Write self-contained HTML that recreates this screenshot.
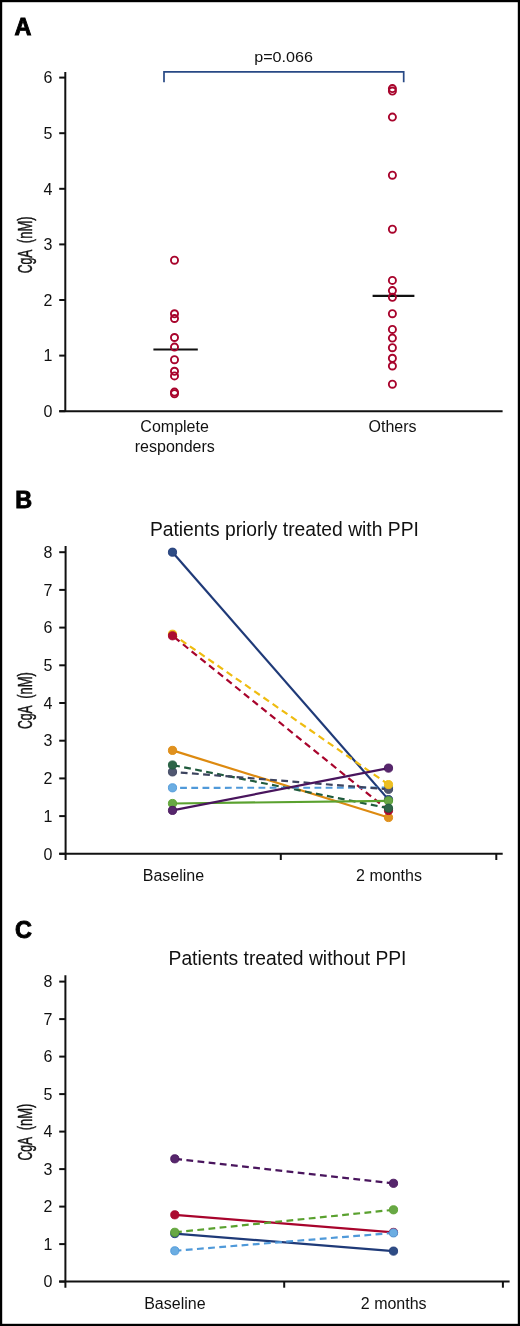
<!DOCTYPE html>
<html><head><meta charset="utf-8"><style>
html,body{margin:0;padding:0;background:#fff;}
svg{display:block;will-change:transform;}
</style></head><body>
<svg width="520" height="1326" viewBox="0 0 520 1326">
<rect x="1.1" y="1.1" width="517.8" height="1323.8" fill="#fff" stroke="#000" stroke-width="2.2"/>
<g font-family='"Liberation Sans", sans-serif' fill="#111">
<text x="14.6" y="34.9" font-size="23.4" font-weight="bold" fill="#000" stroke="#000" stroke-width="0.9">A</text>
<line x1="65.3" y1="71.9" x2="65.3" y2="411.2" stroke="#111" stroke-width="2"/>
<line x1="59.2" y1="411.20" x2="65.3" y2="411.20" stroke="#111" stroke-width="2"/>
<text x="52.4" y="416.90" font-size="16" text-anchor="end">0</text>
<line x1="59.2" y1="355.60" x2="65.3" y2="355.60" stroke="#111" stroke-width="2"/>
<text x="52.4" y="361.30" font-size="16" text-anchor="end">1</text>
<line x1="59.2" y1="300.00" x2="65.3" y2="300.00" stroke="#111" stroke-width="2"/>
<text x="52.4" y="305.70" font-size="16" text-anchor="end">2</text>
<line x1="59.2" y1="244.40" x2="65.3" y2="244.40" stroke="#111" stroke-width="2"/>
<text x="52.4" y="250.10" font-size="16" text-anchor="end">3</text>
<line x1="59.2" y1="188.80" x2="65.3" y2="188.80" stroke="#111" stroke-width="2"/>
<text x="52.4" y="194.50" font-size="16" text-anchor="end">4</text>
<line x1="59.2" y1="133.20" x2="65.3" y2="133.20" stroke="#111" stroke-width="2"/>
<text x="52.4" y="138.90" font-size="16" text-anchor="end">5</text>
<line x1="59.2" y1="77.60" x2="65.3" y2="77.60" stroke="#111" stroke-width="2"/>
<text x="52.4" y="83.30" font-size="16" text-anchor="end">6</text>
<text transform="translate(31.9,273.35) rotate(-90) scale(0.6,1)" x="0" y="0" font-size="20.3" stroke="#111" stroke-width="0.45">CgA</text>
<text transform="translate(31.9,216.45) rotate(-90) scale(0.64,1)" x="0" y="0" font-size="20.3" text-anchor="end" stroke="#111" stroke-width="0.45">(nM)</text>
<line x1="59.2" y1="411.2" x2="502.6" y2="411.2" stroke="#111" stroke-width="2"/>
<text x="174.6" y="432.3" font-size="16" text-anchor="middle">Complete</text>
<text x="174.8" y="451.7" font-size="16" text-anchor="middle">responders</text>
<text x="392.5" y="431.7" font-size="16" text-anchor="middle">Others</text>
<text transform="translate(283.6,61.7) scale(1.09,1)" x="0" y="0" font-size="14.8" text-anchor="middle">p=0.066</text>
<path d="M164,82.3 V71.9 H403.7 V82.3" fill="none" stroke="#284985" stroke-width="1.7"/>
<line x1="153.4" y1="349.5" x2="197.8" y2="349.5" stroke="#111" stroke-width="2.2"/>
<line x1="372.6" y1="295.8" x2="414.4" y2="295.8" stroke="#111" stroke-width="2.2"/>
<circle cx="174.5" cy="260.2" r="3.55" fill="none" stroke="#a8042c" stroke-width="1.9"/>
<circle cx="174.5" cy="313.8" r="3.55" fill="none" stroke="#a8042c" stroke-width="1.9"/>
<circle cx="174.5" cy="318.5" r="3.55" fill="none" stroke="#a8042c" stroke-width="1.9"/>
<circle cx="174.5" cy="337.5" r="3.55" fill="none" stroke="#a8042c" stroke-width="1.9"/>
<circle cx="174.5" cy="347.1" r="3.55" fill="none" stroke="#a8042c" stroke-width="1.9"/>
<circle cx="174.5" cy="359.7" r="3.55" fill="none" stroke="#a8042c" stroke-width="1.9"/>
<circle cx="174.5" cy="371.3" r="3.55" fill="none" stroke="#a8042c" stroke-width="1.9"/>
<circle cx="174.5" cy="375.9" r="3.55" fill="none" stroke="#a8042c" stroke-width="1.9"/>
<circle cx="174.5" cy="392.1" r="3.55" fill="none" stroke="#a8042c" stroke-width="1.9"/>
<circle cx="174.5" cy="393.7" r="3.55" fill="none" stroke="#a8042c" stroke-width="1.9"/>
<circle cx="392.4" cy="88.6" r="3.55" fill="none" stroke="#a8042c" stroke-width="1.9"/>
<circle cx="392.4" cy="91.1" r="3.55" fill="none" stroke="#a8042c" stroke-width="1.9"/>
<circle cx="392.4" cy="117.1" r="3.55" fill="none" stroke="#a8042c" stroke-width="1.9"/>
<circle cx="392.4" cy="175.2" r="3.55" fill="none" stroke="#a8042c" stroke-width="1.9"/>
<circle cx="392.4" cy="229.2" r="3.55" fill="none" stroke="#a8042c" stroke-width="1.9"/>
<circle cx="392.4" cy="280.4" r="3.55" fill="none" stroke="#a8042c" stroke-width="1.9"/>
<circle cx="392.4" cy="290.6" r="3.55" fill="none" stroke="#a8042c" stroke-width="1.9"/>
<circle cx="392.4" cy="297.3" r="3.55" fill="none" stroke="#a8042c" stroke-width="1.9"/>
<circle cx="392.4" cy="313.7" r="3.55" fill="none" stroke="#a8042c" stroke-width="1.9"/>
<circle cx="392.4" cy="329.4" r="3.55" fill="none" stroke="#a8042c" stroke-width="1.9"/>
<circle cx="392.4" cy="338.1" r="3.55" fill="none" stroke="#a8042c" stroke-width="1.9"/>
<circle cx="392.4" cy="347.7" r="3.55" fill="none" stroke="#a8042c" stroke-width="1.9"/>
<circle cx="392.4" cy="358.3" r="3.55" fill="none" stroke="#a8042c" stroke-width="1.9"/>
<circle cx="392.4" cy="366" r="3.55" fill="none" stroke="#a8042c" stroke-width="1.9"/>
<circle cx="392.4" cy="384.2" r="3.55" fill="none" stroke="#a8042c" stroke-width="1.9"/>
<text x="15.3" y="508.1" font-size="23.4" font-weight="bold" fill="#000" stroke="#000" stroke-width="0.9">B</text>
<text x="284.4" y="535.9" font-size="19.3" text-anchor="middle">Patients priorly treated with PPI</text>
<line x1="65.6" y1="546.1" x2="65.6" y2="860.0" stroke="#111" stroke-width="2"/>
<line x1="59.2" y1="853.80" x2="65.6" y2="853.80" stroke="#111" stroke-width="2"/>
<text x="52.4" y="859.50" font-size="16" text-anchor="end">0</text>
<line x1="59.2" y1="816.10" x2="65.6" y2="816.10" stroke="#111" stroke-width="2"/>
<text x="52.4" y="821.80" font-size="16" text-anchor="end">1</text>
<line x1="59.2" y1="778.40" x2="65.6" y2="778.40" stroke="#111" stroke-width="2"/>
<text x="52.4" y="784.10" font-size="16" text-anchor="end">2</text>
<line x1="59.2" y1="740.70" x2="65.6" y2="740.70" stroke="#111" stroke-width="2"/>
<text x="52.4" y="746.40" font-size="16" text-anchor="end">3</text>
<line x1="59.2" y1="703.00" x2="65.6" y2="703.00" stroke="#111" stroke-width="2"/>
<text x="52.4" y="708.70" font-size="16" text-anchor="end">4</text>
<line x1="59.2" y1="665.30" x2="65.6" y2="665.30" stroke="#111" stroke-width="2"/>
<text x="52.4" y="671.00" font-size="16" text-anchor="end">5</text>
<line x1="59.2" y1="627.60" x2="65.6" y2="627.60" stroke="#111" stroke-width="2"/>
<text x="52.4" y="633.30" font-size="16" text-anchor="end">6</text>
<line x1="59.2" y1="589.90" x2="65.6" y2="589.90" stroke="#111" stroke-width="2"/>
<text x="52.4" y="595.60" font-size="16" text-anchor="end">7</text>
<line x1="59.2" y1="552.20" x2="65.6" y2="552.20" stroke="#111" stroke-width="2"/>
<text x="52.4" y="557.90" font-size="16" text-anchor="end">8</text>
<text transform="translate(31.9,728.95) rotate(-90) scale(0.6,1)" x="0" y="0" font-size="20.3" stroke="#111" stroke-width="0.45">CgA</text>
<text transform="translate(31.9,672.05) rotate(-90) scale(0.64,1)" x="0" y="0" font-size="20.3" text-anchor="end" stroke="#111" stroke-width="0.45">(nM)</text>
<line x1="59.2" y1="853.8" x2="502.7" y2="853.8" stroke="#111" stroke-width="2"/>
<line x1="280.8" y1="853.8" x2="280.8" y2="860" stroke="#111" stroke-width="2"/>
<line x1="496.3" y1="853.8" x2="496.3" y2="860" stroke="#111" stroke-width="2"/>
<text x="173.4" y="881" font-size="16" text-anchor="middle">Baseline</text>
<text x="389" y="881" font-size="16" text-anchor="middle">2 months</text>
<line x1="172.5" y1="552.2" x2="388.5" y2="799.6" stroke="#1f3a78" stroke-width="2.2"/>
<line x1="388.5" y1="784.6" x2="172.5" y2="634.2" stroke="#efbc10" stroke-width="2.2" stroke-dasharray="6.8 4.4"/>
<line x1="388.5" y1="810.5" x2="172.5" y2="635.8" stroke="#a8042c" stroke-width="2.2" stroke-dasharray="6.8 4.4"/>
<line x1="172.5" y1="750.4" x2="388.5" y2="817.5" stroke="#dd8a10" stroke-width="2.2"/>
<line x1="388.5" y1="808.2" x2="172.5" y2="765.0" stroke="#1f5a3c" stroke-width="2.2" stroke-dasharray="6.8 4.4"/>
<line x1="388.5" y1="787.7" x2="172.5" y2="787.8" stroke="#4f99d9" stroke-width="2.2" stroke-dasharray="6.8 4.4"/>
<line x1="388.5" y1="789.3" x2="172.5" y2="771.9" stroke="#3d445f" stroke-width="2.2" stroke-dasharray="6.8 4.4"/>
<line x1="172.5" y1="803.5" x2="388.5" y2="800.8" stroke="#5aa12f" stroke-width="2.2"/>
<line x1="172.5" y1="810.4" x2="388.5" y2="768.1" stroke="#49155d" stroke-width="2.2"/>
<circle cx="172.5" cy="552.2" r="4.1" fill="#2e4c85" stroke="#1f3a78" stroke-width="0.9"/>
<circle cx="172.5" cy="634.2" r="4.1" fill="#ecbf24" stroke="#efbc10" stroke-width="0.9"/>
<circle cx="172.5" cy="635.8" r="4.1" fill="#ab0c31" stroke="#a8042c" stroke-width="0.9"/>
<circle cx="172.5" cy="750.4" r="4.1" fill="#e0911f" stroke="#dd8a10" stroke-width="0.9"/>
<circle cx="172.5" cy="771.9" r="4.1" fill="#505771" stroke="#3d445f" stroke-width="0.9"/>
<circle cx="172.5" cy="765.0" r="4.1" fill="#2e6548" stroke="#1f5a3c" stroke-width="0.9"/>
<circle cx="172.5" cy="787.8" r="4.1" fill="#6badE2" stroke="#4f99d9" stroke-width="0.9"/>
<circle cx="172.5" cy="803.5" r="4.1" fill="#68a845" stroke="#5aa12f" stroke-width="0.9"/>
<circle cx="172.5" cy="810.4" r="4.1" fill="#56266c" stroke="#49155d" stroke-width="0.9"/>
<circle cx="388.5" cy="768.1" r="4.1" fill="#56266c" stroke="#49155d" stroke-width="0.9"/>
<circle cx="388.5" cy="787.7" r="4.1" fill="#6badE2" stroke="#4f99d9" stroke-width="0.9"/>
<circle cx="388.5" cy="789.3" r="4.1" fill="#505771" stroke="#3d445f" stroke-width="0.9"/>
<circle cx="388.5" cy="784.6" r="4.1" fill="#ecbf24" stroke="#efbc10" stroke-width="0.9"/>
<circle cx="388.5" cy="799.6" r="4.1" fill="#2e4c85" stroke="#1f3a78" stroke-width="0.9"/>
<circle cx="388.5" cy="800.8" r="4.1" fill="#68a845" stroke="#5aa12f" stroke-width="0.9"/>
<circle cx="388.5" cy="817.5" r="4.1" fill="#e0911f" stroke="#dd8a10" stroke-width="0.9"/>
<circle cx="388.5" cy="810.5" r="4.1" fill="#ab0c31" stroke="#a8042c" stroke-width="0.9"/>
<circle cx="388.5" cy="808.2" r="4.1" fill="#2e6548" stroke="#1f5a3c" stroke-width="0.9"/>
<text x="14.9" y="937.6" font-size="23.4" font-weight="bold" fill="#000" stroke="#000" stroke-width="0.9">C</text>
<text x="287.5" y="965" font-size="19.3" text-anchor="middle">Patients treated without PPI</text>
<line x1="65.4" y1="975.2" x2="65.4" y2="1287.6999999999998" stroke="#111" stroke-width="2"/>
<line x1="59.2" y1="1281.60" x2="65.4" y2="1281.60" stroke="#111" stroke-width="2"/>
<text x="52.4" y="1287.30" font-size="16" text-anchor="end">0</text>
<line x1="59.2" y1="1244.10" x2="65.4" y2="1244.10" stroke="#111" stroke-width="2"/>
<text x="52.4" y="1249.80" font-size="16" text-anchor="end">1</text>
<line x1="59.2" y1="1206.60" x2="65.4" y2="1206.60" stroke="#111" stroke-width="2"/>
<text x="52.4" y="1212.30" font-size="16" text-anchor="end">2</text>
<line x1="59.2" y1="1169.10" x2="65.4" y2="1169.10" stroke="#111" stroke-width="2"/>
<text x="52.4" y="1174.80" font-size="16" text-anchor="end">3</text>
<line x1="59.2" y1="1131.60" x2="65.4" y2="1131.60" stroke="#111" stroke-width="2"/>
<text x="52.4" y="1137.30" font-size="16" text-anchor="end">4</text>
<line x1="59.2" y1="1094.10" x2="65.4" y2="1094.10" stroke="#111" stroke-width="2"/>
<text x="52.4" y="1099.80" font-size="16" text-anchor="end">5</text>
<line x1="59.2" y1="1056.60" x2="65.4" y2="1056.60" stroke="#111" stroke-width="2"/>
<text x="52.4" y="1062.30" font-size="16" text-anchor="end">6</text>
<line x1="59.2" y1="1019.10" x2="65.4" y2="1019.10" stroke="#111" stroke-width="2"/>
<text x="52.4" y="1024.80" font-size="16" text-anchor="end">7</text>
<line x1="59.2" y1="981.60" x2="65.4" y2="981.60" stroke="#111" stroke-width="2"/>
<text x="52.4" y="987.30" font-size="16" text-anchor="end">8</text>
<text transform="translate(31.9,1160.45) rotate(-90) scale(0.6,1)" x="0" y="0" font-size="20.3" stroke="#111" stroke-width="0.45">CgA</text>
<text transform="translate(31.9,1103.55) rotate(-90) scale(0.64,1)" x="0" y="0" font-size="20.3" text-anchor="end" stroke="#111" stroke-width="0.45">(nM)</text>
<line x1="59.1" y1="1281.6" x2="509.6" y2="1281.6" stroke="#111" stroke-width="2"/>
<line x1="284.2" y1="1281.6" x2="284.2" y2="1287.7" stroke="#111" stroke-width="2"/>
<line x1="502.9" y1="1281.6" x2="502.9" y2="1287.7" stroke="#111" stroke-width="2"/>
<text x="174.85" y="1308.8" font-size="16" text-anchor="middle">Baseline</text>
<text x="393.7" y="1308.8" font-size="16" text-anchor="middle">2 months</text>
<line x1="393.5" y1="1183.3" x2="174.8" y2="1158.8" stroke="#49155d" stroke-width="2.2" stroke-dasharray="6.8 4.4"/>
<line x1="174.8" y1="1214.8" x2="393.5" y2="1232.4" stroke="#a8042c" stroke-width="2.2"/>
<line x1="174.8" y1="1233.6" x2="393.5" y2="1251.1" stroke="#1f3a78" stroke-width="2.2"/>
<line x1="393.5" y1="1209.8" x2="174.8" y2="1232.3" stroke="#5aa12f" stroke-width="2.2" stroke-dasharray="6.8 4.4"/>
<line x1="393.5" y1="1232.9" x2="174.8" y2="1250.8" stroke="#4f99d9" stroke-width="2.2" stroke-dasharray="6.8 4.4"/>
<circle cx="174.8" cy="1158.8" r="4.1" fill="#56266c" stroke="#49155d" stroke-width="0.9"/>
<circle cx="174.8" cy="1214.8" r="4.1" fill="#ab0c31" stroke="#a8042c" stroke-width="0.9"/>
<circle cx="174.8" cy="1233.6" r="4.1" fill="#2e4c85" stroke="#1f3a78" stroke-width="0.9"/>
<circle cx="174.8" cy="1232.3" r="4.1" fill="#68a845" stroke="#5aa12f" stroke-width="0.9"/>
<circle cx="174.8" cy="1250.8" r="4.1" fill="#6badE2" stroke="#4f99d9" stroke-width="0.9"/>
<circle cx="393.5" cy="1183.3" r="4.1" fill="#56266c" stroke="#49155d" stroke-width="0.9"/>
<circle cx="393.5" cy="1232.4" r="4.1" fill="#ab0c31" stroke="#a8042c" stroke-width="0.9"/>
<circle cx="393.5" cy="1209.8" r="4.1" fill="#68a845" stroke="#5aa12f" stroke-width="0.9"/>
<circle cx="393.5" cy="1232.9" r="4.1" fill="#6badE2" stroke="#4f99d9" stroke-width="0.9"/>
<circle cx="393.5" cy="1251.1" r="4.1" fill="#2e4c85" stroke="#1f3a78" stroke-width="0.9"/>
</g>
</svg>
</body></html>
